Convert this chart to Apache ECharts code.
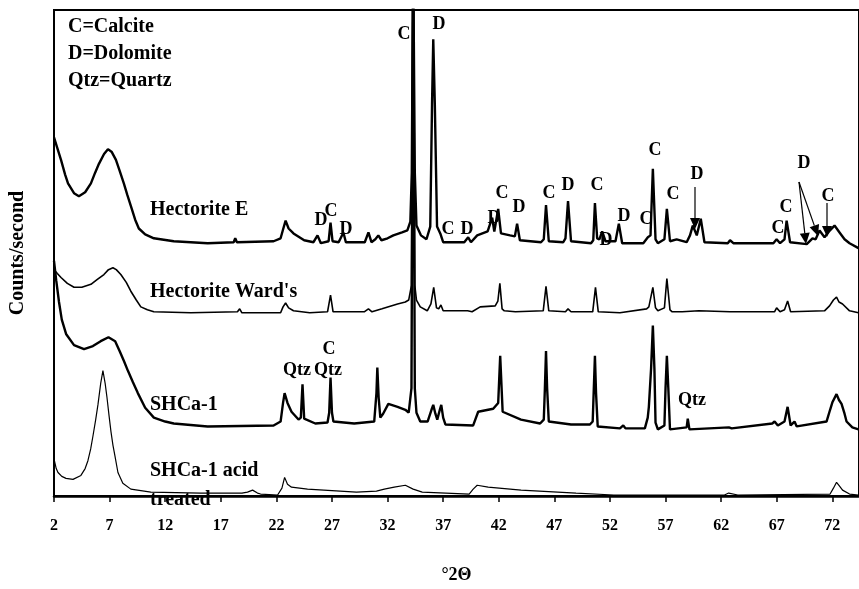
<!DOCTYPE html>
<html>
<head>
<meta charset="utf-8">
<script src="https://cdn.jsdelivr.net/npm/echarts@6/dist/echarts.min.js"></script>
<style>
  html, body { margin: 0; padding: 0; background: #fff; }
  #main { width: 859px; height: 589px; }
</style>
</head>
<body>
<div id="main"></div>
<script>
// [°2Θ, intensity] (intensity in arbitrary stacked units)
var hectoriteE = [[2.0,366],[2.3,355],[2.63,343],[3.0,328],[3.26,319],[3.8,309],[4.24,306],[4.8,310],[5.32,319],[5.7,330],[6.04,339],[6.5,349],[6.85,354],[7.2,351],[7.57,343],[7.9,332],[8.28,319],[8.6,307],[8.91,296],[9.3,282],[9.63,273],[10.2,267],[10.98,263],[12.77,260],[15.82,258],[18.16,259],[18.3,263],[18.45,259],[21.75,260],[22.38,263],[22.6,272],[22.83,281],[23.1,273],[23.54,268],[24.5,261],[25.34,259],[25.7,266],[26.0,258],[26.7,260],[26.87,279],[27.05,260],[27.6,259],[28.03,269],[28.25,259],[29.95,259],[30.28,269],[30.55,259],[30.9,262],[31.17,266],[31.45,261],[32.0,263],[32.52,266],[33.3,269],[33.78,271],[34.05,280],[34.18,330],[34.3,560],[34.45,330],[34.6,276],[35.0,266],[35.5,262],[35.84,275],[36.0,400],[36.11,466],[36.25,400],[36.45,275],[36.74,268],[37.0,259],[38.9,259],[39.25,264],[39.5,259],[40.06,266],[41.0,270],[41.41,284],[41.6,270],[41.75,272],[41.95,293],[42.2,268],[43.02,266],[43.45,265],[43.65,278],[43.9,261],[45.8,259],[46.05,262],[46.25,297],[46.5,260],[47.8,259],[48.0,263],[48.23,301],[48.5,260],[50.3,258],[50.5,261],[50.65,299],[50.85,263],[51.05,262],[51.3,270],[51.6,260],[52.5,260],[52.8,278],[53.1,258],[55.0,258],[55.41,264],[55.65,266],[55.86,334],[56.1,262],[56.31,258],[56.9,262],[57.12,293],[57.4,260],[58.0,262],[58.9,259],[59.2,266],[59.45,276],[59.81,266],[60.17,283],[60.5,259],[62.6,258],[62.8,261],[63.1,258],[66.7,258],[66.99,262],[67.3,258],[67.7,262],[67.89,281],[68.2,259],[69.7,257],[70.22,263],[70.5,262],[70.85,271],[71.3,264],[71.7,270],[72.2,276],[72.65,269],[73.1,262],[73.55,258],[74.35,253]];

var hectoriteWards = [[2.0,231],[2.3,227],[2.63,223],[3.2,217],[3.8,213],[4.5,213],[5.32,216],[5.9,221],[6.49,226],[6.9,231],[7.3,233],[7.6,231],[8.01,226],[8.5,218],[8.91,209],[9.4,200],[9.81,193],[10.4,190],[10.98,188],[14.3,187],[18.5,188],[18.7,191],[18.9,187],[22.38,187],[22.6,193],[22.83,197],[23.1,192],[23.54,189],[25.0,187],[26.6,188],[26.87,205],[27.1,188],[29.9,188],[30.28,191],[30.6,188],[31.5,191],[32.9,196],[33.6,198],[33.9,200],[34.15,215],[34.3,560],[34.45,215],[34.6,200],[34.94,193],[35.57,189],[35.9,196],[36.15,213],[36.4,192],[36.6,191],[36.8,195],[37.0,189],[39.2,189],[39.35,191],[39.6,188],[40.33,193],[41.68,194],[41.92,199],[42.1,217],[42.3,191],[42.5,189],[43.5,188],[46.0,189],[46.25,214],[46.5,189],[48.0,188],[48.23,191],[48.5,188],[50.45,188],[50.7,213],[50.95,188],[52.9,187],[55.3,191],[55.5,193],[55.86,213],[56.1,192],[56.31,189],[56.9,192],[57.12,222],[57.4,190],[57.6,188],[58.5,188],[60.0,189],[62.8,188],[66.8,188],[66.99,192],[67.3,188],[67.7,190],[67.98,199],[68.25,188],[71.3,189],[71.75,194],[72.1,200],[72.38,203],[72.6,198],[72.92,196],[73.55,189],[74.35,187]];

var shca1 = [[2.0,240],[2.2,220],[2.45,198],[2.7,180],[3.1,165],[3.8,154],[4.7,150],[5.5,153],[6.2,158],[6.9,162],[7.5,158],[7.9,148],[8.28,138],[8.64,128],[9.1,116],[9.54,105],[10.2,90],[10.98,80],[12.0,76],[12.77,74],[15.82,71],[21.75,72],[22.38,76],[22.6,95],[22.74,105],[23.0,95],[23.36,86],[23.99,78],[24.2,80],[24.35,114],[24.5,79],[25.5,74],[26.6,75],[26.75,85],[26.87,121],[27.0,85],[27.13,76],[29.0,74],[30.8,76],[31.0,105],[31.08,131],[31.2,100],[31.35,80],[31.6,84],[32.07,94],[32.9,91],[33.6,88],[33.9,85],[34.15,110],[34.3,560],[34.45,110],[34.6,85],[34.94,76],[35.6,76],[35.95,88],[36.11,93],[36.3,84],[36.47,78],[36.7,88],[36.83,93],[37.0,80],[37.2,73],[39.7,72],[40.15,86],[41.5,89],[41.95,95],[42.13,143],[42.35,86],[44.0,78],[45.72,74],[46.05,78],[46.15,110],[46.25,148],[46.35,110],[46.5,76],[48.5,73],[50.2,73],[50.45,76],[50.55,110],[50.65,143],[50.75,105],[50.9,71],[52.9,69],[53.2,72],[53.4,69],[55.14,69],[55.4,80],[55.5,91],[55.7,130],[55.86,174],[56.0,130],[56.1,75],[56.31,68],[56.9,72],[57.0,110],[57.12,143],[57.25,110],[57.4,68],[58.9,70],[59.0,79],[59.15,68],[62.7,70],[62.8,72],[62.95,69],[66.6,74],[66.81,76],[67.1,72],[67.7,76],[67.98,91],[68.25,72],[68.6,76],[68.8,71],[71.48,76],[71.8,88],[72.02,96],[72.38,104],[72.6,98],[72.83,94],[73.1,84],[73.28,76],[73.8,70],[74.35,68]];

var shca1Acid = [[2.0,38],[2.2,28],[2.36,24],[2.7,20],[3.08,18],[3.71,17],[4.42,21],[4.8,28],[5.05,36],[5.3,48],[5.5,61],[5.75,78],[5.95,93],[6.2,115],[6.4,128],[6.6,115],[6.76,101],[6.95,82],[7.12,66],[7.3,52],[7.48,41],[7.75,24],[8.19,13],[8.91,7],[10.71,4],[15.2,3],[18.9,3],[19.4,4],[19.86,6],[20.3,3],[20.58,2],[22.11,1],[22.5,8],[22.74,19],[23.0,12],[23.36,9],[24.8,7],[29.2,4],[31.0,5],[31.71,7],[32.6,9],[33.6,11],[34.3,7],[35.12,4],[39.34,2],[39.7,7],[40.06,11],[41.05,9],[44.01,6],[48.95,3],[52.36,1],[62.3,1],[62.68,3],[63.5,1],[71.8,2],[72.1,8],[72.38,14],[72.65,10],[72.92,6],[73.55,2],[74.35,1]];

var seriesNames = ['Hectorite E', "Hectorite Ward's", 'SHCa-1', 'SHCa-1 acid treated'];
var legendLines = ['C=Calcite', 'D=Dolomite', 'Qtz=Quartz'];

var serif = 'bold 20px "Liberation Serif", "DejaVu Serif", serif';
var serifSmall = 'bold 18px "Liberation Serif", "DejaVu Serif", serif';

// peak letters: [text, px, py]
var peakLabels = [
  ['C', 404, 34], ['D', 439, 24],
  ['D', 321, 220], ['C', 331, 211], ['D', 346, 229],
  ['C', 448, 229], ['D', 467, 229], ['D', 494, 218], ['C', 502, 193], ['D', 519, 207],
  ['C', 549, 193], ['D', 568, 185], ['C', 597, 185], ['D', 606, 240], ['D', 624, 216],
  ['C', 646, 219], ['C', 655, 150], ['C', 673, 194], ['D', 697, 174],
  ['C', 778, 228], ['C', 786, 207], ['D', 804, 163], ['C', 828, 196],
  ['C', 329, 349], ['Qtz', 297, 370], ['Qtz', 328, 370], ['Qtz', 692, 400]
];

var sampleLabels = [
  [seriesNames[0], 210], [seriesNames[1], 292], [seriesNames[2], 405],
  ['SHCa-1 acid', 471], ['treated', 500]
];

var graphic = [];
legendLines.forEach(function (t, i) {
  graphic.push({ type: 'text', x: 68, y: 27 + i * 27, style: { text: t, font: serif, fill: '#000', textAlign: 'left', textVerticalAlign: 'middle', verticalAlign: 'middle' } });
});
sampleLabels.forEach(function (s) {
  graphic.push({ type: 'text', x: 150, y: s[1], style: { text: s[0], font: serif, fill: '#000', textAlign: 'left', textVerticalAlign: 'middle', verticalAlign: 'middle' } });
});
peakLabels.forEach(function (p) {
  graphic.push({ type: 'text', x: p[1], y: p[2], style: { text: p[0], font: serifSmall, fill: '#000', textAlign: 'center', textVerticalAlign: 'middle', verticalAlign: 'middle' } });
});

// arrows
function arrow(x1, y1, x2, y2) {
  var dx = x2 - x1, dy = y2 - y1, len = Math.sqrt(dx * dx + dy * dy);
  var ux = dx / len, uy = dy / len;
  var bx = x2 - ux * 11, by = y2 - uy * 11;
  graphic.push({ type: 'line', shape: { x1: x1, y1: y1, x2: bx, y2: by }, style: { stroke: '#000', lineWidth: 1.2 } });
  graphic.push({ type: 'polygon', shape: { points: [[x2, y2], [bx - uy * 5, by + ux * 5], [bx + uy * 5, by - ux * 5]] }, style: { fill: '#000' } });
}
arrow(695, 187, 695, 229);
arrow(799, 182, 806, 244);
arrow(799, 182, 818, 236);
arrow(827, 203, 827, 237);

var chart = echarts.init(document.getElementById('main'));

var option = {
  backgroundColor: '#fff',
  animation: false,
  grid: {
    left: 53, right: 0, top: 10, bottom: 83,
    show: true, borderColor: '#000', borderWidth: 2
  },
  xAxis: {
    type: 'value',
    min: 2,
    max: 74.4,
    interval: 5,
    name: '°2Θ',
    nameLocation: 'middle',
    nameGap: 70,
    nameTextStyle: { fontFamily: '"Liberation Serif", serif', fontWeight: 'bold', fontSize: 18, color: '#000' },
    axisLine: { lineStyle: { color: '#000', width: 2.5 } },
    axisTick: { inside: false, length: 6, lineStyle: { color: '#000', width: 1.5 } },
    axisLabel: {
      showMaxLabel: false,
      margin: 22,
      fontFamily: '"Liberation Serif", serif',
      fontWeight: 'bold',
      fontSize: 16,
      color: '#000'
    },
    splitLine: { show: false }
  },
  yAxis: {
    type: 'value',
    min: 0,
    max: 496,
    name: 'Counts/second',
    nameLocation: 'middle',
    nameRotate: 90,
    nameGap: 26,
    nameTextStyle: { fontFamily: '"Liberation Serif", serif', fontWeight: 'bold', fontSize: 20, color: '#000' },
    axisLine: { show: true, lineStyle: { color: '#000', width: 2 } },
    axisTick: { show: false },
    axisLabel: { show: false },
    splitLine: { show: false }
  },
  graphic: graphic,
  series: [
    { name: seriesNames[0], type: 'line', data: hectoriteE, showSymbol: false, clip: true, lineStyle: { color: '#000', width: 2.4 } },
    { name: seriesNames[1], type: 'line', data: hectoriteWards, showSymbol: false, clip: true, lineStyle: { color: '#000', width: 1.6 } },
    { name: seriesNames[2], type: 'line', data: shca1, showSymbol: false, clip: true, lineStyle: { color: '#000', width: 2.4 } },
    { name: seriesNames[3], type: 'line', data: shca1Acid, showSymbol: false, clip: true, lineStyle: { color: '#000', width: 1.2 } }
  ]
};

chart.setOption(option);
</script>
</body>
</html>
